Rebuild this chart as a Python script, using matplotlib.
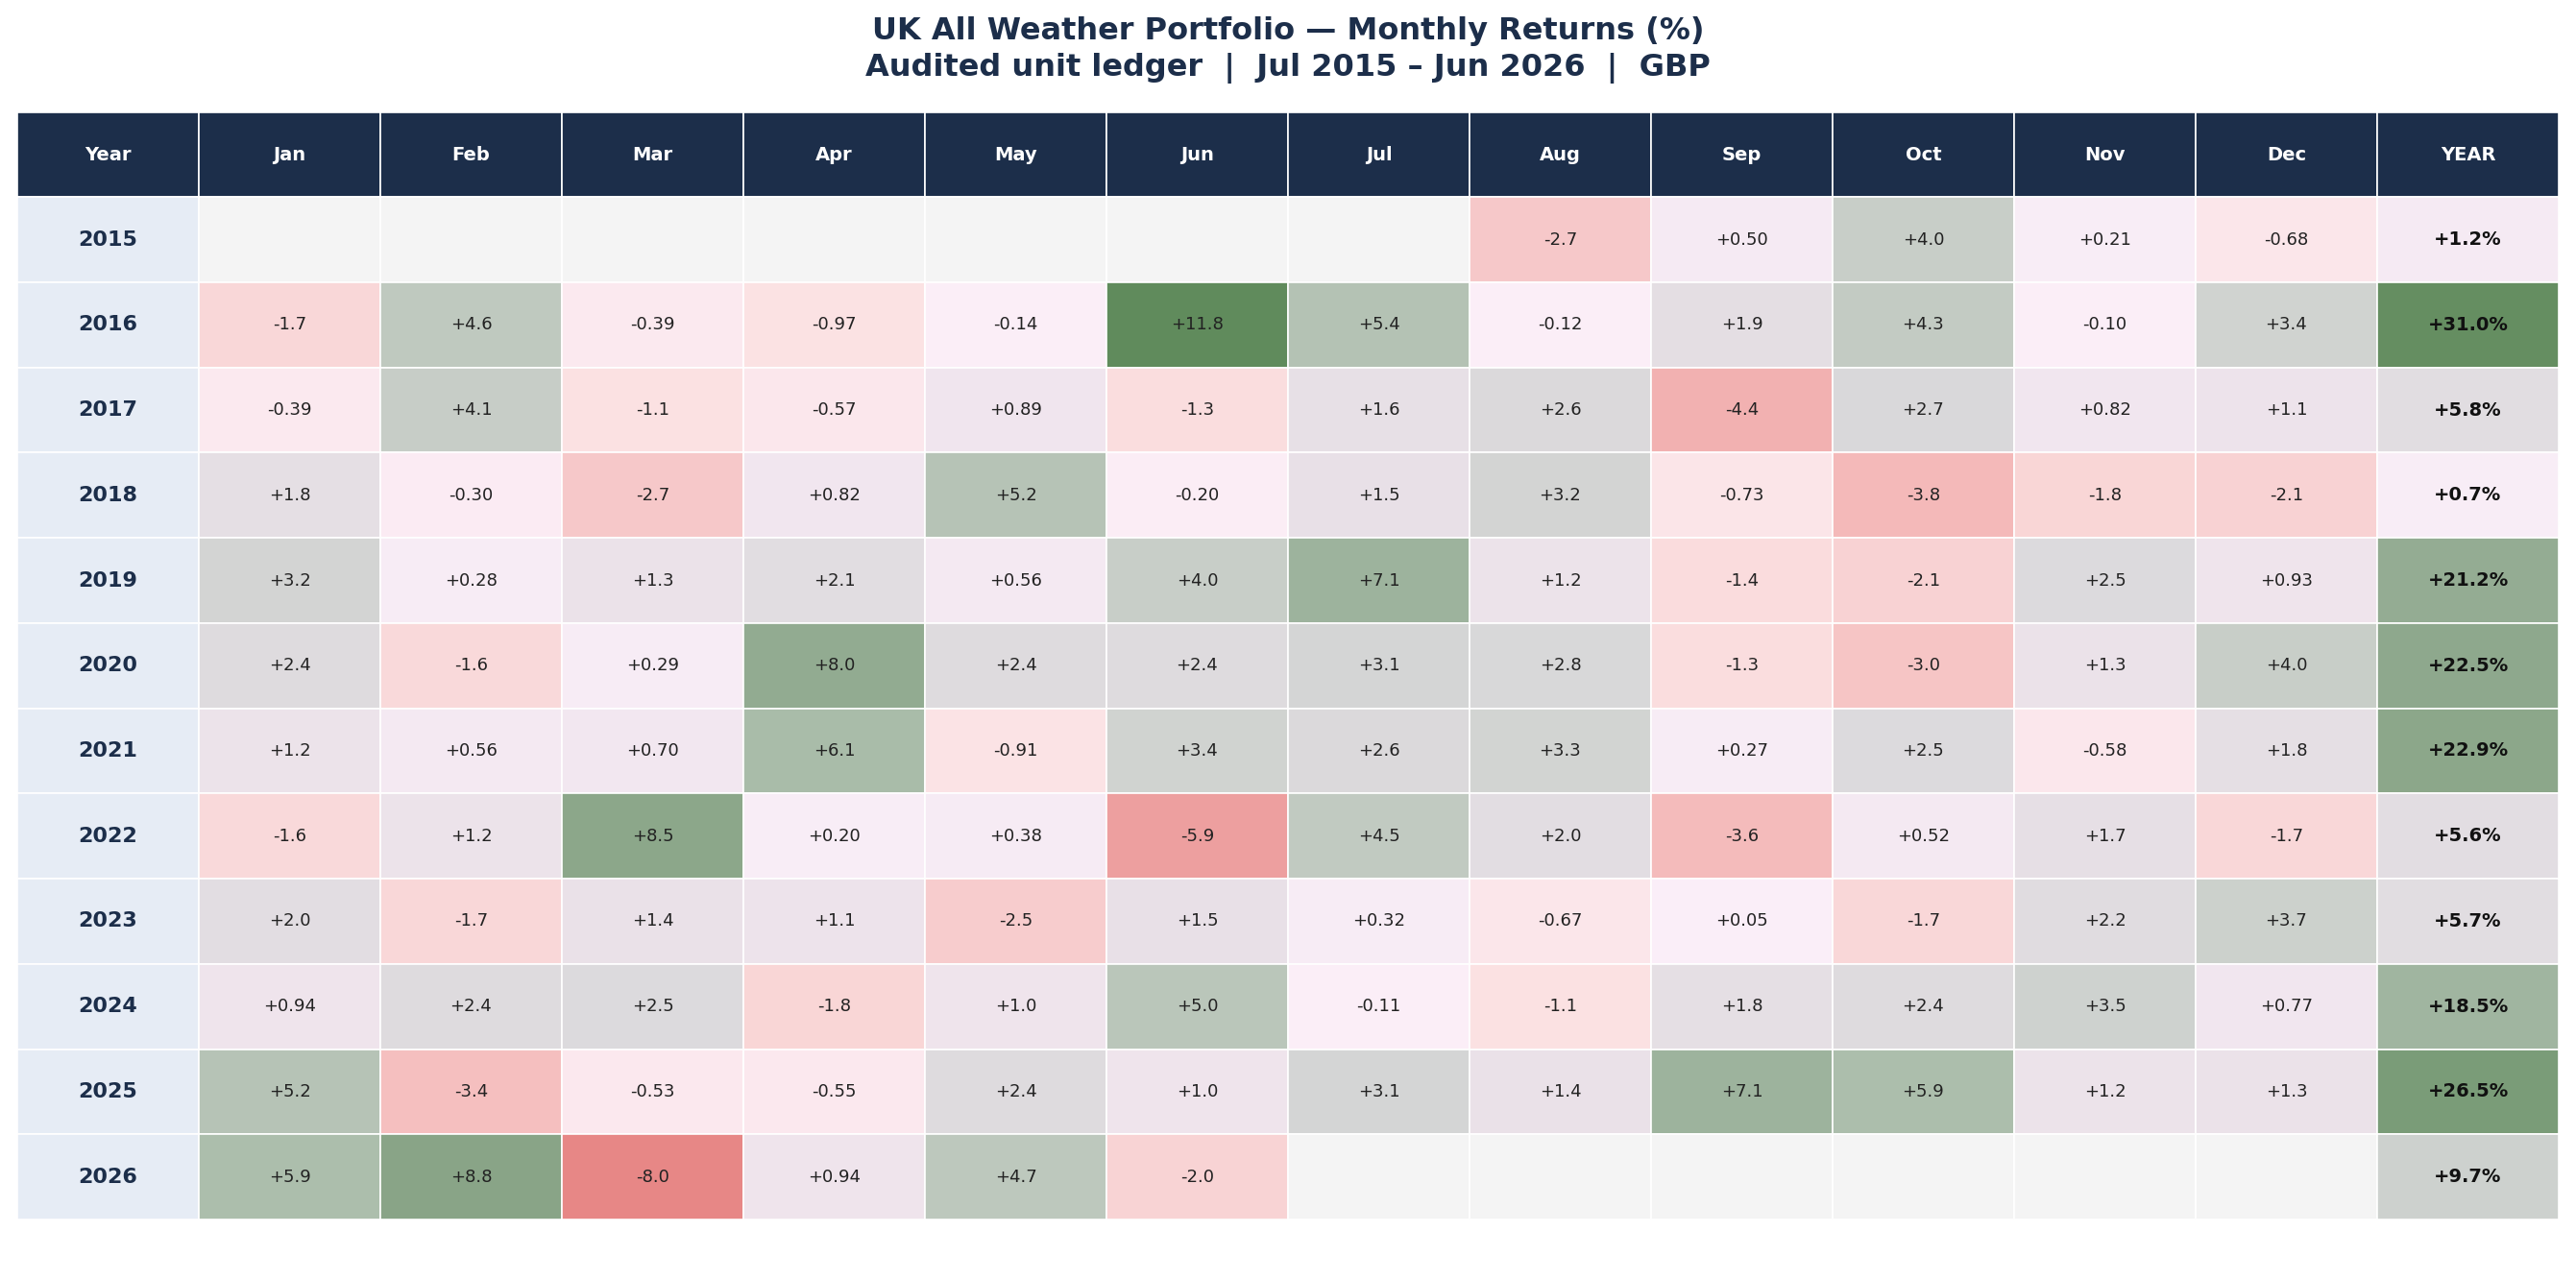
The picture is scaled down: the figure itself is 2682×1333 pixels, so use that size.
import matplotlib
matplotlib.use('Agg')
import matplotlib.pyplot as plt
import numpy as np
from matplotlib.colors import LinearSegmentedColormap, Normalize
from matplotlib.patches import Rectangle

# Data
years = [2015, 2016, 2017, 2018, 2019, 2020, 2021, 2022, 2023, 2024, 2025, 2026]
months = ["Jan", "Feb", "Mar", "Apr", "May", "Jun", "Jul", "Aug", "Sep", "Oct", "Nov", "Dec"]
N = None
returns = [
    [N, N, N, N, N, N, N, -2.7, 0.50, 4.0, 0.21, -0.68],
    [-1.7, 4.6, -0.39, -0.97, -0.14, 11.8, 5.4, -0.12, 1.9, 4.3, -0.10, 3.4],
    [-0.39, 4.1, -1.1, -0.57, 0.89, -1.3, 1.6, 2.6, -4.4, 2.7, 0.82, 1.1],
    [1.8, -0.30, -2.7, 0.82, 5.2, -0.20, 1.5, 3.2, -0.73, -3.8, -1.8, -2.1],
    [3.2, 0.28, 1.3, 2.1, 0.56, 4.0, 7.1, 1.2, -1.4, -2.1, 2.5, 0.93],
    [2.4, -1.6, 0.29, 8.0, 2.4, 2.4, 3.1, 2.8, -1.3, -3.0, 1.3, 4.0],
    [1.2, 0.56, 0.70, 6.1, -0.91, 3.4, 2.6, 3.3, 0.27, 2.5, -0.58, 1.8],
    [-1.6, 1.2, 8.5, 0.20, 0.38, -5.9, 4.5, 2.0, -3.6, 0.52, 1.7, -1.7],
    [2.0, -1.7, 1.4, 1.1, -2.5, 1.5, 0.32, -0.67, 0.05, -1.7, 2.2, 3.7],
    [0.94, 2.4, 2.5, -1.8, 1.00, 5.0, -0.11, -1.1, 1.8, 2.4, 3.5, 0.77],
    [5.2, -3.4, -0.53, -0.55, 2.4, 1.0, 3.1, 1.4, 7.1, 5.9, 1.2, 1.3],
    [5.9, 8.8, -8.0, 0.94, 4.7, -2.0, N, N, N, N, N, N],
]
year_totals = [1.2, 31.0, 5.8, 0.7, 21.2, 22.5, 22.9, 5.6, 5.7, 18.5, 26.5, 9.7]

NAVY = "#1c2e4a"
# custom diverging map: red -> pale pink/lilac -> grey -> green
anchors = [(-9, "#e47b7a"), (-4, "#f3b6b6"), (-1, "#fbe2e3"), (0, "#fbeff9"),
           (1, "#efe4ec"), (2.5, "#dcdadd"), (4, "#c8cec8"), (6, "#abbdab"),
           (8, "#93ab92"), (12, "#5e8a5a")]
lo, hi = anchors[0][0], anchors[-1][0]
cmap = LinearSegmentedColormap.from_list(
    "ret", [((v - lo) / (hi - lo), c) for v, c in anchors])
norm = Normalize(lo, hi)

fig = plt.figure(figsize=(26.82, 13.33), dpi=100)
ax = fig.add_axes([18 / 2682, 63 / 1333, (2664 - 18) / 2682, (1270 - 117) / 1333])
ncols = 14
nrows = len(years) + 1
hdr_h = 88 / 88.5
ax.set_xlim(0, ncols)
ax.set_ylim(len(years) + hdr_h, 0)
ax.axis('off')

headers = ["Year"] + months + ["YEAR"]
for c, h in enumerate(headers):
    ax.add_patch(Rectangle((c, 0), 1, hdr_h, facecolor=NAVY, edgecolor="white", lw=1.2))
    ax.text(c + 0.5, hdr_h / 2, h, ha="center", va="center", color="white",
            fontsize=14, fontweight="bold")

for r, yr in enumerate(years):
    y0 = hdr_h + r
    ax.add_patch(Rectangle((0, y0), 1, 1, facecolor="#e6ecf5", edgecolor="white", lw=1.2))
    ax.text(0.5, y0 + 0.5, str(yr), ha="center", va="center", color=NAVY,
            fontsize=16, fontweight="bold")
    for m in range(12):
        v = returns[r][m]
        if v is None:
            fc, label = "#f4f4f4", ""
        else:
            fc = cmap(norm(v))
            label = f"{v:+.2f}" if abs(v) < 1 or v == 1.00 and False else f"{v:+.1f}"
            if abs(v) < 1:
                label = f"{v:+.2f}"
        ax.add_patch(Rectangle((m + 1, y0), 1, 1, facecolor=fc, edgecolor="white", lw=1.2))
        if label:
            ax.text(m + 1.5, y0 + 0.5, label, ha="center", va="center",
                    color="#222222", fontsize=13)
    t = year_totals[r]
    ax.add_patch(Rectangle((13, y0), 1, 1, facecolor=cmap(norm(t / 2.7)),
                           edgecolor="white", lw=1.2))
    ax.text(13.5, y0 + 0.5, f"{t:+.1f}%", ha="center", va="center",
            color="#111111", fontsize=14, fontweight="bold")

fig.text(0.5, 1 - 33 / 1333, "UK All Weather Portfolio \u2014 Monthly Returns (%)",
         ha="center", va="center", fontsize=23, fontweight="bold", color=NAVY)
fig.text(0.5, 1 - 71 / 1333, "Audited unit ledger  |  Jul 2015 \u2013 Jun 2026  |  GBP",
         ha="center", va="center", fontsize=23, fontweight="bold", color=NAVY)

fig.savefig("out.png", dpi=100)
